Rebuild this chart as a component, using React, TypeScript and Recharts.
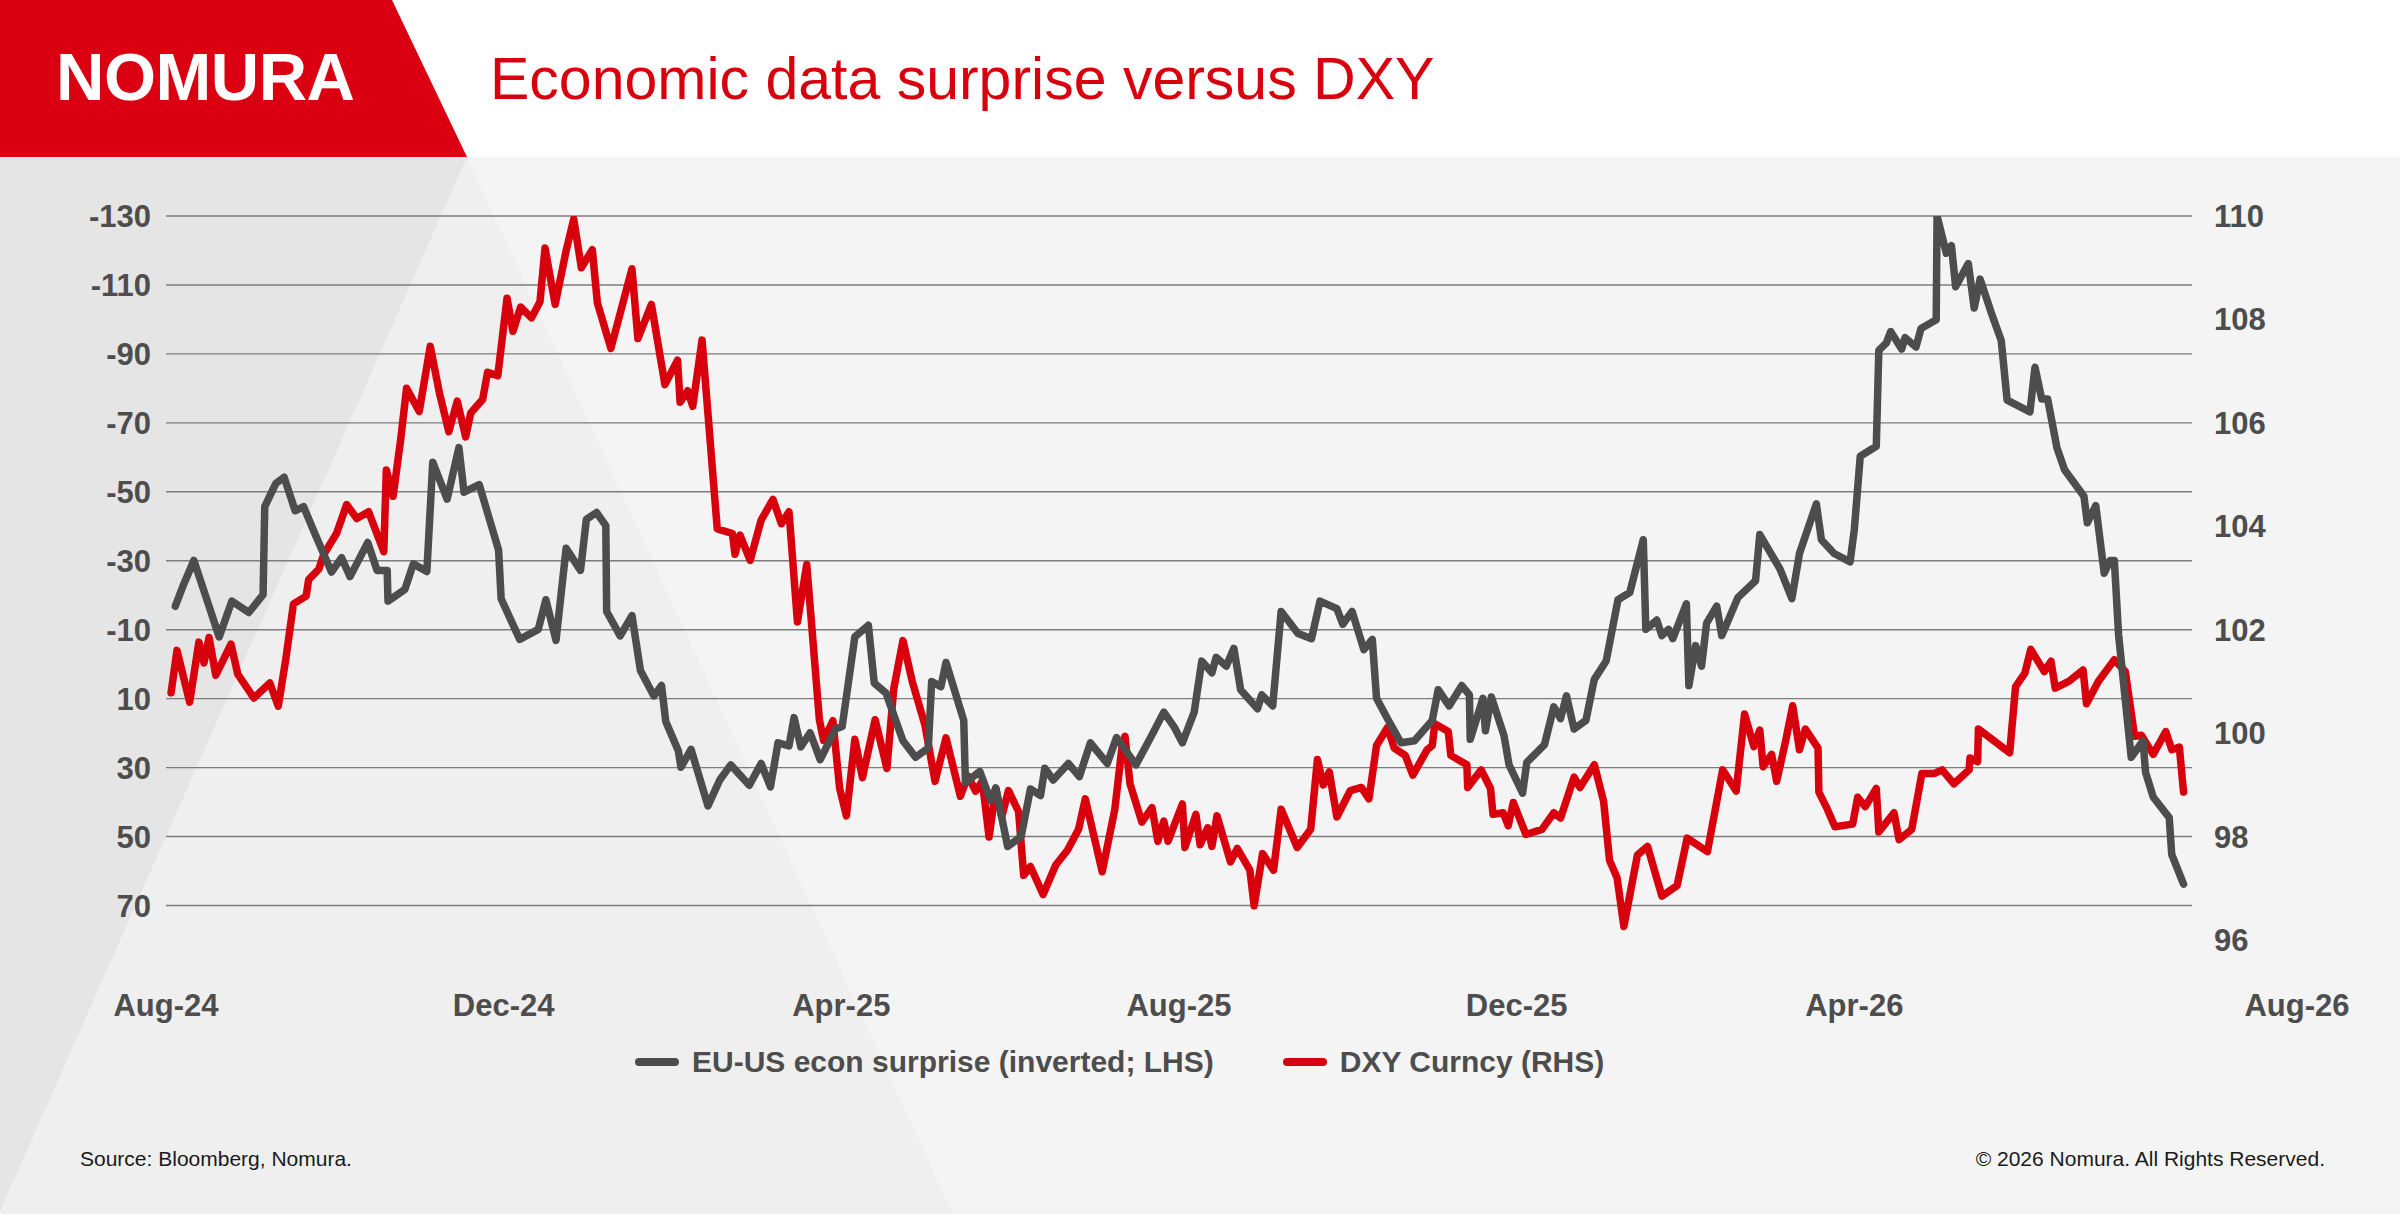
import React from 'react';
import { LineChart, Line, XAxis, YAxis, CartesianGrid } from 'recharts';

const FONT = '"Liberation Sans", Arial, Helvetica, sans-serif';
const RED = '#d9000d';
const GREY = '#4d4d4d';

// x positions are months since Aug-24
const monthTicks = [0, 4, 8, 12, 16, 20, 24];
const monthLabels = ['Aug-24', 'Dec-24', 'Apr-25', 'Aug-25', 'Dec-25', 'Apr-26', 'Aug-26'];
const leftTicks = [-130, -110, -90, -70, -50, -30, -10, 10, 30, 50, 70];
const rightTicks = [96, 98, 100, 102, 104, 106, 108, 110];

// EU-US econ surprise (inverted; LHS)
const surpriseMonths = [
  0.11, 0.21, 0.33, 0.48, 0.63, 0.78, 0.98, 1.15, 1.17, 1.3, 1.4, 1.53, 1.63, 1.73, 1.96, 2.08,
  2.18, 2.39, 2.5, 2.62, 2.63, 2.83, 2.93, 3.09, 3.16, 3.33, 3.47, 3.53, 3.71, 3.94, 3.97, 4.19,
  4.41, 4.5, 4.62, 4.74, 4.91, 4.98, 5.1, 5.21, 5.22, 5.38, 5.52, 5.62, 5.78, 5.87, 5.92, 6.07,
  6.1, 6.22, 6.42, 6.56, 6.69, 6.91, 7.05, 7.16, 7.25, 7.38, 7.44, 7.52, 7.63, 7.75, 7.93, 8.01,
  8.16, 8.32, 8.39, 8.53, 8.73, 8.88, 9.03, 9.07, 9.18, 9.24, 9.45, 9.47, 9.64, 9.77, 9.83, 9.97,
  10.13, 10.24, 10.36, 10.41, 10.51, 10.69, 10.82, 10.95, 11.15, 11.26, 11.49, 11.67, 11.82, 11.94,
  12.04, 12.18, 12.27, 12.39, 12.44, 12.56, 12.65, 12.73, 12.93, 12.98, 13.11, 13.21, 13.41, 13.57,
  13.67, 13.87, 13.94, 14.05, 14.19, 14.29, 14.34, 14.47, 14.63, 14.79, 15.0, 15.07, 15.2, 15.35,
  15.44, 15.45, 15.6, 15.63, 15.7, 15.85, 15.91, 16.07, 16.12, 16.33, 16.44, 16.52, 16.59, 16.68,
  16.82, 16.92, 17.06, 17.2, 17.34, 17.5, 17.53, 17.66, 17.72, 17.8, 17.85, 18.01, 18.04, 18.12,
  18.19, 18.25, 18.37, 18.43, 18.62, 18.83, 18.88, 19.12, 19.26, 19.35, 19.55, 19.61, 19.76, 19.95,
  20.0, 20.07, 20.26, 20.29, 20.38, 20.43, 20.56, 20.6, 20.73, 20.79, 20.97, 20.98, 21.09, 21.15,
  21.2, 21.35, 21.42, 21.49, 21.62, 21.74, 21.81, 22.08, 22.14, 22.22, 22.29, 22.4, 22.49, 22.72,
  22.76, 22.86, 22.96, 23.03, 23.08, 23.13, 23.28, 23.42, 23.45, 23.54, 23.73, 23.76, 23.9,
];
const surpriseValues = [
  -16.8, -23.2, -30.1, -19, -7.9, -18.3, -15, -20.2, -45.7, -52.4, -54.2, -44.5, -45.7, -39.8, -26.7, -30.9,
  -25.4, -35.3, -27.2, -27.2, -18.3, -21.7, -29.1, -26.9, -58.6, -47.9, -62.8, -49.9, -52.1, -33.1, -19, -7.2,
  -10.1, -18.7, -6.9, -33.6, -27.2, -42, -44, -40.2, -15.3, -8.2, -14.1, 1.8, 9.2, 6.2, 16.6, 25.2,
  29.9, 24.7, 41.1, 33.6, 29.2, 35.1, 28.8, 35.6, 22.8, 23.7, 15.5, 24, 19.9, 27.7, 18.8, 18.1,
  -7.9, -11.3, 5.5, 8.4, 22.2, 27, 24.3, 5, 6.5, -0.5, 16.3, 34.4, 31.1, 39.6, 35.9, 52.9,
  50, 36.2, 38.1, 30.2, 33.6, 28.8, 32.6, 22.8, 28.8, 21.3, 29.2, 21, 13.9, 18.1,
  22.8, 13.9, -0.9, 2.5, -2, 0.6, -4.6, 7.4, 12.9, 8.9, 12.1, -15.3, -8.9, -7.4,
  -18.3, -16.1, -11.6, -15.3, -4.2, -7.2, 9.9, 15.8, 22.8, 22.2, 16.3, 7.4, 12.1, 6.2,
  8.9, 21.8, 9.9, 19.3, 9.5, 20.7, 29.2, 37.4, 28.5, 23.3, 12.4, 15.8, 9.2, 18.8,
  16.3, 4.4, -0.9, -18.7, -20.8, -36.1, -10.1, -12.8, -8.3, -10.1, -7.4, -17.5, 6.2, -5.4,
  0.6, -11.9, -16.8, -8.3, -19.3, -24.2, -37.6, -27.6, -19, -32.1, -46.5, -36.1, -32.1, -29.7,
  -39.1, -60.3, -63.2, -91, -93.2, -96.5, -91.4, -94.7, -92, -97.4, -99.9, -130, -119.2, -121.4,
  -109.5, -116.2, -103.3, -111.7, -102.1, -93.9, -76.6, -73.2, -86.1, -76.9, -76.9, -62.8, -56.4, -48.7,
  -41, -46, -26.4, -30.1, -30.1, -8.6, 27, 22.2, 31.4, 38.5, 44.5, 55.2, 63.8,
];

// DXY Curncy (RHS)
const dxyMonths = [
  0.06, 0.13, 0.28, 0.39, 0.45, 0.51, 0.59, 0.77, 0.85, 1.04, 1.23, 1.33, 1.42, 1.51, 1.66, 1.69,
  1.81, 1.87, 2.02, 2.14, 2.26, 2.4, 2.58, 2.61, 2.69, 2.78, 2.85, 3.0, 3.13, 3.24, 3.35, 3.45,
  3.55, 3.61, 3.75, 3.81, 3.93, 4.04, 4.11, 4.2, 4.33, 4.43, 4.49, 4.61, 4.74, 4.83, 4.92, 5.05,
  5.11, 5.27, 5.52, 5.59, 5.75, 5.91, 6.06, 6.09, 6.18, 6.24, 6.35, 6.53, 6.71, 6.74, 6.8, 6.92,
  7.05, 7.19, 7.29, 7.38, 7.48, 7.59, 7.74, 7.79, 7.9, 7.98, 8.06, 8.16, 8.25, 8.4, 8.54, 8.62,
  8.73, 8.84, 8.99, 9.11, 9.24, 9.41, 9.5, 9.59, 9.67, 9.75, 9.83, 9.9, 9.98, 10.1, 10.16, 10.24,
  10.39, 10.54, 10.68, 10.81, 10.89, 11.09, 11.24, 11.33, 11.36, 11.42, 11.56, 11.68, 11.75, 11.82,
  11.87, 12.04, 12.07, 12.2, 12.25, 12.34, 12.39, 12.45, 12.61, 12.69, 12.84, 12.89, 12.99, 13.12,
  13.21, 13.4, 13.56, 13.64, 13.71, 13.78, 13.87, 14.03, 14.16, 14.25, 14.34, 14.47, 14.55, 14.68,
  14.77, 14.94, 15.0, 15.03, 15.19, 15.22, 15.41, 15.42, 15.58, 15.69, 15.72, 15.84, 15.9, 15.96,
  16.11, 16.3, 16.44, 16.52, 16.68, 16.75, 16.92, 17.03, 17.1, 17.19, 17.27, 17.43, 17.55, 17.72,
  17.9, 18.02, 18.26, 18.44, 18.6, 18.7, 18.81, 18.88, 18.92, 19.02, 19.08, 19.19, 19.27, 19.35,
  19.42, 19.57, 19.58, 19.68, 19.77, 19.98, 20.04, 20.13, 20.26, 20.29, 20.47, 20.53, 20.68, 20.8,
  20.95, 21.04, 21.18, 21.36, 21.37, 21.46, 21.47, 21.84, 21.91, 22.02, 22.09, 22.25, 22.33, 22.38,
  22.54, 22.71, 22.75, 22.89, 23.08, 23.21, 23.32, 23.4, 23.54, 23.69, 23.76, 23.85, 23.9,
];
const dxyValues = [
  100.78, 101.6, 100.6, 101.76, 101.36, 101.85, 101.12, 101.72, 101.14, 100.68, 100.97, 100.52, 101.44, 102.5, 102.65, 102.97,
  103.17, 103.46, 103.86, 104.42, 104.15, 104.28, 103.51, 105.09, 104.58, 105.68, 106.67, 106.22, 107.48, 106.57, 105.83, 106.42,
  105.73, 106.19, 106.45, 106.98, 106.91, 108.41, 107.77, 108.24, 108.03, 108.34, 109.38, 108.29, 109.33, 109.94, 109.0, 109.35,
  108.32, 107.44, 108.98, 107.63, 108.29, 106.74, 107.21, 106.4, 106.62, 106.32, 107.6, 103.95, 103.86, 103.46, 103.83, 103.34,
  104.12, 104.52, 104.05, 104.28, 102.15, 103.26, 100.26, 99.86, 100.24, 98.93, 98.4, 99.88, 99.14, 100.26, 99.32, 100.85,
  101.79, 101.0, 100.16, 99.07, 99.91, 98.78, 99.17, 98.88, 99.07, 97.99, 98.93, 98.38, 98.89, 98.48, 97.25, 97.42,
  96.88, 97.45, 97.74, 98.14, 98.73, 97.32, 98.53, 99.81, 99.94, 99.02, 98.28, 98.56, 97.91, 98.3,
  97.91, 98.63, 97.79, 98.43, 97.84, 98.17, 97.81, 98.4, 97.51, 97.77, 97.35, 96.66, 97.67, 97.35,
  98.53, 97.79, 98.14, 99.49, 99.0, 99.25, 98.38, 98.89, 98.95, 98.73, 99.76, 100.11, 99.71, 99.57,
  99.19, 99.68, 99.76, 100.18, 100.03, 99.57, 99.39, 98.95, 99.29, 98.93, 98.43, 98.46, 98.21, 98.66,
  98.04, 98.14, 98.46, 98.36, 99.15, 98.95, 99.39, 98.68, 97.54, 97.2, 96.26, 97.64, 97.81, 96.85,
  97.05, 97.97, 97.71, 99.29, 98.88, 100.37, 99.74, 100.06, 99.35, 99.59, 99.07, 99.88, 100.53, 99.68,
  100.08, 99.71, 98.86, 98.53, 98.19, 98.24, 98.76, 98.58, 98.93, 98.09, 98.46, 97.94, 98.14, 99.22,
  99.22, 99.29, 99.02, 99.29, 99.52, 99.45, 100.08, 99.62, 100.9, 101.16, 101.62, 101.19, 101.39, 100.87,
  101.0, 101.22, 100.57, 101.0, 101.42, 101.19, 99.94, 99.96, 99.59, 100.03, 99.68, 99.73, 98.86,
];

const surpriseData = surpriseMonths.map((m, i) => ({ m, v: surpriseValues[i] }));
const dxyData = dxyMonths.map((m, i) => ({ m, v: dxyValues[i] }));

const MonthTick = (props: any) => {
  const { x, y, payload, index } = props;
  // the last label sits out past the plot edge in the original
  const last = index === monthTicks.length - 1;
  return (
    <text
      x={x + (last ? 105 : 0)}
      y={y + 65}
      textAnchor="middle"
      dominantBaseline="central"
      fontFamily={FONT}
      fontSize={31}
      fontWeight="bold"
      fill={GREY}
    >
      {monthLabels[monthTicks.indexOf(payload.value)]}
    </text>
  );
};

const tickStyle = { fontFamily: FONT, fontSize: 31, fontWeight: 'bold', fill: GREY };

const Background = () => (
  <svg width={2400} height={1214} style={{ position: 'absolute', left: 0, top: 0 }}>
    <rect x={0} y={0} width={2400} height={157} fill="#ffffff" />
    <rect x={0} y={157} width={2400} height={1057} fill="#f4f4f4" />
    <polygon points="467,157 953,1214 0,1214" fill="#efefef" />
    <polygon points="0,157 467,157 0,1212" fill="#e5e5e5" />
    <polygon points="0,0 392,0 467,157 0,157" fill="#db0011" />
    <text x={56} y={100} fontFamily={FONT} fontSize={67} fontWeight="bold" fill="#ffffff" letterSpacing={-0.5}>
      NOMURA
    </text>
    <text x={490} y={99} fontFamily={FONT} fontSize={59} fill={RED}>
      Economic data surprise versus DXY
    </text>
  </svg>
);

const Swatch = ({ color }: { color: string }) => (
  <div style={{ width: 44, height: 8, borderRadius: 4, background: color, marginRight: 13 }} />
);

export default function App() {
  return (
    <div style={{ position: 'absolute', left: 0, top: 0, width: 2400, height: 1214, overflow: 'hidden', fontFamily: FONT }}>
      <Background />
      <div style={{ position: 'absolute', left: 0, top: 0 }}>
        <LineChart width={2400} height={1214} margin={{ top: 216, right: 0, bottom: 214, left: 0 }}>
          <CartesianGrid yAxisId="left" vertical={false} syncWithTicks stroke="#7d7d7d" strokeWidth={1.4} />
          <XAxis
            dataKey="m"
            type="number"
            domain={[0, 24]}
            ticks={monthTicks}
            interval={0}
            height={60}
            axisLine={false}
            tickLine={false}
            tickSize={0}
            tickMargin={0}
            tick={<MonthTick />}
            allowDataOverflow
          />
          <YAxis
            yAxisId="left"
            orientation="left"
            width={166}
            type="number"
            domain={[-130, 80]}
            reversed
            ticks={leftTicks}
            interval={0}
            axisLine={false}
            tickLine={false}
            tickSize={0}
            tickMargin={15}
            tick={tickStyle}
            allowDataOverflow
          />
          <YAxis
            yAxisId="right"
            orientation="right"
            width={208}
            type="number"
            domain={[96, 110]}
            ticks={rightTicks}
            interval={0}
            axisLine={false}
            tickLine={false}
            tickSize={0}
            tickMargin={22}
            tick={{ ...tickStyle, textAnchor: 'start' }}
            allowDataOverflow
          />
          <Line
            yAxisId="right"
            data={dxyData}
            dataKey="v"
            type="linear"
            stroke={RED}
            strokeWidth={7.5}
            strokeLinejoin="round"
            strokeLinecap="round"
            dot={false}
            activeDot={false}
            isAnimationActive={false}
          />
          <Line
            yAxisId="left"
            data={surpriseData}
            dataKey="v"
            type="linear"
            stroke={GREY}
            strokeWidth={7.5}
            strokeLinejoin="round"
            strokeLinecap="round"
            dot={false}
            activeDot={false}
            isAnimationActive={false}
          />
        </LineChart>
      </div>

      <div
        style={{
          position: 'absolute', left: 635, top: 1062, transform: 'translateY(-50%)',
          display: 'flex', alignItems: 'center', fontSize: 30, fontWeight: 'bold', color: GREY,
          whiteSpace: 'nowrap',
        }}
      >
        <Swatch color={GREY} />
        <span>EU-US econ surprise (inverted; LHS)</span>
        <div style={{ width: 69 }} />
        <Swatch color={RED} />
        <span>DXY Curncy (RHS)</span>
      </div>

      <div style={{ position: 'absolute', left: 80, top: 1159, transform: 'translateY(-50%)', fontSize: 21, color: '#1a1a1a', whiteSpace: 'nowrap' }}>
        Source: Bloomberg, Nomura.
      </div>
      <div style={{ position: 'absolute', right: 75, top: 1159, transform: 'translateY(-50%)', fontSize: 21, color: '#1a1a1a', whiteSpace: 'nowrap' }}>
        © 2026 Nomura. All Rights Reserved.
      </div>
    </div>
  );
}
